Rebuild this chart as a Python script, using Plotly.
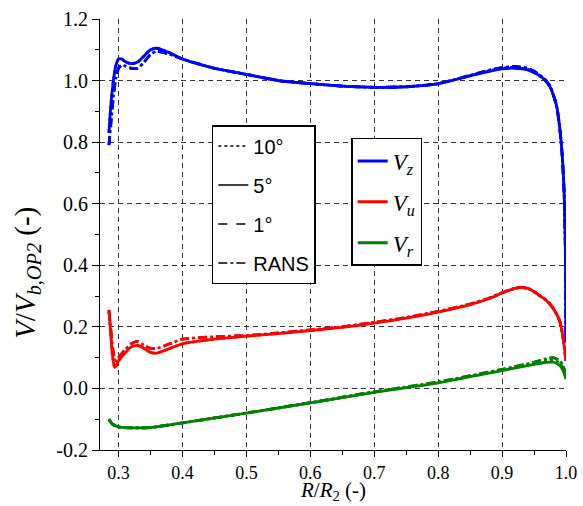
import plotly.graph_objects as go

# ---------------- data ----------------
# Vz
vz_x_5 = [0.285, 0.288, 0.292, 0.296, 0.30, 0.305, 0.31, 0.32, 0.33, 0.34, 0.35, 0.36, 0.38, 0.40, 0.45, 0.50, 0.55,
          0.60, 0.65, 0.70, 0.75, 0.80, 0.85, 0.88, 0.90, 0.92, 0.94, 0.955, 0.965, 0.975, 0.985, 0.99, 0.994, 0.997,
          0.999, 1.0]
vz_y_5 = [0.83, 0.92, 1.00, 1.05, 1.07, 1.07, 1.062, 1.055, 1.06, 1.08, 1.10, 1.105, 1.09, 1.07, 1.04, 1.02, 1.0,
          0.99, 0.982, 0.978, 0.98, 0.99, 1.015, 1.03, 1.038, 1.04, 1.035, 1.02, 1.005, 0.98, 0.92, 0.85, 0.76, 0.64,
          0.46, 0.15]
vz_y_10 = [0.83, 0.92, 1.00, 1.05, 1.07, 1.07, 1.062, 1.055, 1.06, 1.08, 1.10, 1.105, 1.09, 1.07, 1.04, 1.02, 1.0,
           0.99, 0.982, 0.978, 0.98, 0.99, 1.016, 1.032, 1.04, 1.043, 1.037, 1.022, 1.006, 0.98, 0.92, 0.85, 0.76, 0.64,
           0.46, 0.15]
vz_y_1 = [0.79, 0.86, 0.95, 1.01, 1.04, 1.05, 1.048, 1.04, 1.04, 1.06, 1.085, 1.095, 1.085, 1.07, 1.04, 1.02, 1.0,
          0.99, 0.982, 0.978, 0.98, 0.99, 1.017, 1.034, 1.042, 1.046, 1.04, 1.024, 1.008, 0.982, 0.92, 0.85, 0.76, 0.64,
          0.46, 0.15]
vz_y_rans = [0.79, 0.86, 0.95, 1.01, 1.04, 1.05, 1.048, 1.04, 1.04, 1.06, 1.085, 1.095, 1.085, 1.07, 1.04, 1.02, 1.0,
             0.99, 0.982, 0.978, 0.98, 0.99, 1.017, 1.034, 1.042, 1.046, 1.04, 1.024, 1.008, 0.982, 0.92, 0.85, 0.76,
             0.64, 0.46, 0.15]

# Vu
vu_x = [0.285, 0.288, 0.291, 0.294, 0.297, 0.30, 0.31, 0.32, 0.33, 0.34, 0.35, 0.36, 0.38, 0.40, 0.45, 0.50, 0.55,
        0.60, 0.65, 0.70, 0.75, 0.80, 0.85, 0.88, 0.90, 0.92, 0.93, 0.94, 0.95, 0.96, 0.97, 0.98, 0.99, 0.995, 1.0]
vu_y_5 = [0.255, 0.17, 0.10, 0.068, 0.075, 0.09, 0.115, 0.135, 0.14, 0.13, 0.117, 0.115, 0.13, 0.145, 0.16, 0.17,
          0.178, 0.188, 0.198, 0.212, 0.228, 0.248, 0.272, 0.292, 0.31, 0.325, 0.328, 0.325, 0.315, 0.30, 0.285, 0.26,
          0.22, 0.17, 0.09]
vu_y_10 = [0.255, 0.17, 0.10, 0.068, 0.075, 0.09, 0.115, 0.135, 0.14, 0.13, 0.117, 0.115, 0.13, 0.145, 0.16, 0.17,
           0.179, 0.189, 0.2, 0.214, 0.23, 0.25, 0.274, 0.294, 0.311, 0.326, 0.328, 0.325, 0.315, 0.30, 0.285, 0.26,
           0.22, 0.17, 0.09]
vu_y_1 = [0.25, 0.19, 0.13, 0.095, 0.09, 0.10, 0.125, 0.145, 0.153, 0.14, 0.13, 0.13, 0.145, 0.16, 0.168, 0.172,
          0.18, 0.19, 0.2, 0.215, 0.23, 0.25, 0.274, 0.293, 0.311, 0.325, 0.328, 0.325, 0.315, 0.30, 0.285, 0.26,
          0.22, 0.17, 0.09]
vu_y_rans = [0.25, 0.19, 0.13, 0.095, 0.09, 0.10, 0.125, 0.145, 0.153, 0.14, 0.13, 0.13, 0.145, 0.16, 0.168, 0.172,
             0.18, 0.19, 0.2, 0.215, 0.23, 0.25, 0.274, 0.293, 0.311, 0.325, 0.328, 0.325, 0.315, 0.30, 0.285, 0.26,
             0.22, 0.17, 0.09]

# Vr
vr_x = [0.285, 0.29, 0.30, 0.32, 0.35, 0.40, 0.50, 0.60, 0.70, 0.80, 0.90, 0.95, 0.97, 0.98, 0.99, 0.995, 1.0]
vr_y_5 = [-0.10, -0.115, -0.125, -0.128, -0.127, -0.112, -0.08, -0.047, -0.013, 0.018, 0.058, 0.078, 0.085, 0.085,
          0.075, 0.06, 0.03]
vr_y_10 = [-0.10, -0.115, -0.125, -0.128, -0.127, -0.112, -0.08, -0.047, -0.012, 0.02, 0.06, 0.082, 0.09, 0.092,
           0.083, 0.068, 0.04]
vr_y_1 = [-0.10, -0.115, -0.125, -0.128, -0.127, -0.112, -0.08, -0.046, -0.011, 0.021, 0.062, 0.085, 0.097, 0.1,
          0.09, 0.075, 0.045]
vr_y_rans = [-0.10, -0.115, -0.125, -0.128, -0.127, -0.112, -0.08, -0.046, -0.011, 0.021, 0.062, 0.085, 0.097, 0.1,
             0.09, 0.075, 0.045]

case_names = ["10°", "5°", "1°", "RANS"]
case_dash = ["dot", "solid", "dash", "dashdot"]
comp_names = ["<i>V</i><sub><i>z</i></sub>", "<i>V</i><sub><i>u</i></sub>", "<i>V</i><sub><i>r</i></sub>"]
comp_colors = ["#0000ff", "#ff0000", "#008000"]

x_ticks = [0.3, 0.4, 0.5, 0.6, 0.7, 0.8, 0.9, 1.0]
y_ticks = [-0.2, 0.0, 0.2, 0.4, 0.6, 0.8, 1.0, 1.2]
x_title = "<i>R</i>/<i>R</i><sub>2</sub> (-)"
y_title = "<i>V</i>/<i>V</i><sub><i>b,OP2</i></sub> (-)"

series = [
    (vz_x_5, [vz_y_10, vz_y_5, vz_y_1, vz_y_rans], 0),
    (vu_x, [vu_y_10, vu_y_5, vu_y_1, vu_y_rans], 1),
    (vr_x, [vr_y_10, vr_y_5, vr_y_1, vr_y_rans], 2),
]

fig = go.Figure()
for xs, ys_list, ci in series:
    for k, ys in enumerate(ys_list):
        fig.add_trace(go.Scatter(x=xs, y=ys, mode="lines", showlegend=False,
                                 line=dict(color=comp_colors[ci], width=2.8, dash=case_dash[k], shape="spline",
                                           smoothing=0.6)))

# legend 1: line styles
for k, name in enumerate(case_names):
    fig.add_trace(go.Scatter(x=[None], y=[None], mode="lines", name=name, legend="legend",
                             legendgroup="c%d" % k,
                             line=dict(color="black", width=1.5, dash=case_dash[k])))
# legend 2: components
for ci, name in enumerate(comp_names):
    fig.add_trace(go.Scatter(x=[None], y=[None], mode="lines", name=name, legend="legend2",
                             legendgroup="v%d" % ci,
                             line=dict(color=comp_colors[ci], width=3)))

serif = "Liberation Serif, DejaVu Serif, serif"
grid_dash = "5px,4px"
fig.update_layout(
    width=583, height=506,
    margin=dict(l=100, r=17, t=19, b=56, autoexpand=False),
    paper_bgcolor="white", plot_bgcolor="white",
    font=dict(family=serif, color="black", size=18),
    legend=dict(x=0.24, y=0.754, xanchor="left", yanchor="top", bgcolor="white", bordercolor="black",
                borderwidth=1.5, font=dict(family="Liberation Sans, Arial, sans-serif", size=20),
                traceorder="grouped", tracegroupgap=10, itemwidth=30),
    legend2=dict(x=0.539, y=0.724, xanchor="left", yanchor="top", bgcolor="white", bordercolor="black",
                 borderwidth=1.5, font=dict(family=serif, size=23),
                 traceorder="grouped", tracegroupgap=8, itemwidth=30),
    annotations=[
        dict(text=x_title, xref="paper", yref="paper", x=0.5, y=0, xanchor="center", yanchor="bottom",
             yshift=-56, showarrow=False, font=dict(family=serif, size=21, color="black")),
        dict(text=y_title, xref="paper", yref="paper", x=0, y=0.411, xanchor="center", yanchor="middle",
             xshift=-73, textangle=-90, showarrow=False, font=dict(family=serif, size=29, color="black")),
    ],
)
fig.update_xaxes(range=[0.271, 1.0], tickvals=x_ticks, ticktext=["%.1f" % v for v in x_ticks],
                 showline=True, linecolor="black", linewidth=1.2, mirror=False,
                 ticks="outside", ticklen=6, tickcolor="black",
                 minor=dict(ticks="outside", ticklen=4, tickcolor="black", dtick=0.05, tick0=0.25, showgrid=False),
                 showgrid=True, gridcolor="#333", griddash=grid_dash, gridwidth=1, zeroline=False,
                 tickfont=dict(size=18))
fig.update_yaxes(range=[-0.2, 1.2], tickvals=y_ticks, ticktext=["%.1f" % v for v in y_ticks],
                 showline=True, linecolor="black", linewidth=1.2, mirror=False,
                 ticks="outside", ticklen=7, tickcolor="black",
                 minor=dict(ticks="outside", ticklen=4, tickcolor="black", dtick=0.1, tick0=-0.1, showgrid=False),
                 showgrid=True, gridcolor="#333", griddash=grid_dash, gridwidth=1, zeroline=False,
                 tickfont=dict(size=20))

fig.write_html("out.html", config={"displayModeBar": False},
               post_script="document.body.style.margin='0';document.body.style.overflow='hidden';")
